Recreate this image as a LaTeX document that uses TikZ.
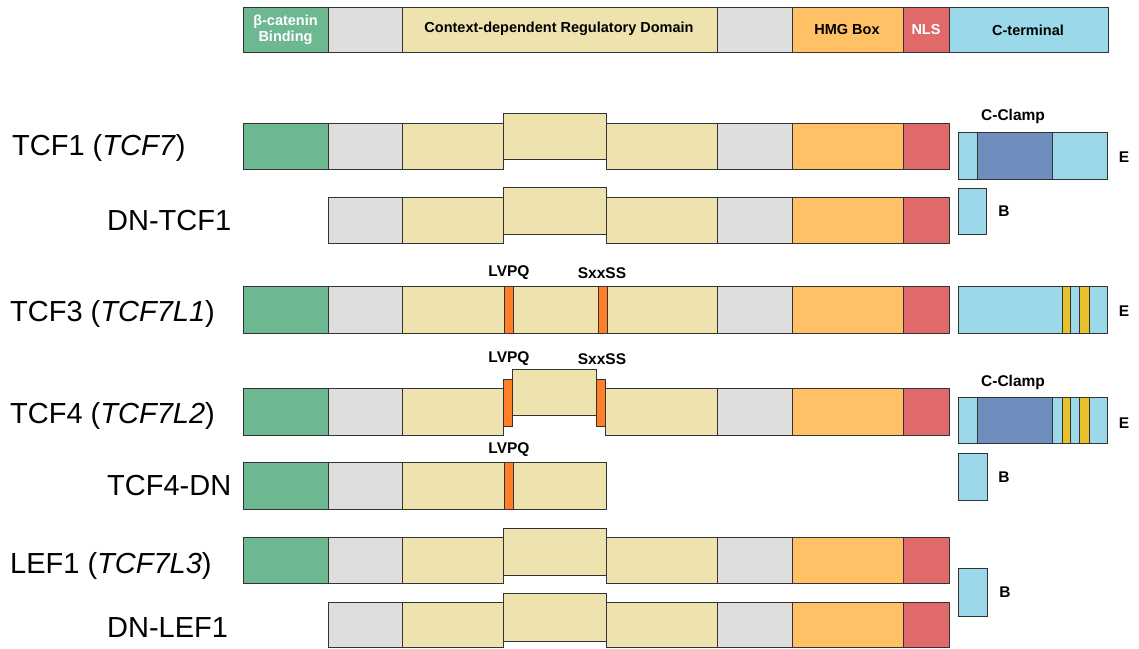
\documentclass[tikz,border=0pt]{standalone}
\usepackage{fontspec}
\setmainfont{Liberation Sans}
\usepackage{tikz}

\definecolor{bcat}{HTML}{6DB791}
\definecolor{linker}{HTML}{DEDEDE}
\definecolor{cdrd}{HTML}{EEE2AE}
\definecolor{hmg}{HTML}{FFC066}
\definecolor{nls}{HTML}{E06A6A}
\definecolor{cterm}{HTML}{9BD9EA}
\definecolor{clamp}{HTML}{6E8FBE}
\definecolor{motif}{HTML}{FF7F27}
\definecolor{cys}{HTML}{E8C12A}

\begin{document}
\begin{tikzpicture}[x=1pt,y=-1pt,
  dom/.style={draw=black!80,line width=0.9pt},
  hdr/.style={font=\bfseries\fontsize{14.5}{16}\selectfont,align=center,inner sep=0pt},
  tag/.style={font=\bfseries\fontsize{15.5}{17}\selectfont,inner sep=0pt},
  gene/.style={font=\fontsize{29}{33}\selectfont,anchor=base west,inner sep=0pt}]
\useasboundingbox (0,0) rectangle (1139,648);

% legend bar
\draw[dom,fill=bcat] (243,7) rectangle (328,52);
\draw[dom,fill=linker] (328,7) rectangle (402,52);
\draw[dom,fill=cdrd] (402,7) rectangle (717,52);
\draw[dom,fill=linker] (717,7) rectangle (792,52);
\draw[dom,fill=hmg] (792,7) rectangle (903,52);
\draw[dom,fill=nls] (903,7) rectangle (949,52);
\draw[dom,fill=cterm] (949,7) rectangle (1108,52);
\node[hdr,text=white] (lgbcat) at (285.5,30) {β-catenin\\Binding};
\node[hdr] (lgcdrd) at (559,29) {Context-dependent Regulatory Domain};
\node[hdr] (lghmg) at (847,30) {HMG Box};
\node[hdr,text=white] (lgnls) at (926,30) {NLS};
\node[hdr] (lgcterm) at (1028,30) {C-terminal};

% TCF1
\node[gene] (tcf1) at (12,155) {TCF1 (\textit{TCF7})};
\draw[dom,fill=bcat] (243,123) rectangle (328,169);
\draw[dom,fill=linker] (328,123) rectangle (402,169);
\draw[dom,fill=cdrd] (402,123) rectangle (503,169);
\draw[dom,fill=cdrd] (503,113) rectangle (606,159);
\draw[dom,fill=cdrd] (606,123) rectangle (717,169);
\draw[dom,fill=linker] (717,123) rectangle (792,169);
\draw[dom,fill=hmg] (792,123) rectangle (903,169);
\draw[dom,fill=nls] (903,123) rectangle (949,169);
\draw[dom,fill=cterm] (958,132) rectangle (1107,179);
\draw[dom,fill=clamp] (977,132) rectangle (1052,179);
\node[tag] (cc1) at (1013,116) {C-Clamp};
\node[tag] (e1) at (1124,157) {E};

% DN-TCF1
\node[gene] (dntcf1) at (107,230) {DN-TCF1};
\draw[dom,fill=linker] (328,197) rectangle (402,243);
\draw[dom,fill=cdrd] (402,197) rectangle (503,243);
\draw[dom,fill=cdrd] (503,187) rectangle (606,234);
\draw[dom,fill=cdrd] (606,197) rectangle (717,243);
\draw[dom,fill=linker] (717,197) rectangle (792,243);
\draw[dom,fill=hmg] (792,197) rectangle (903,243);
\draw[dom,fill=nls] (903,197) rectangle (949,243);
\draw[dom,fill=cterm] (958,188) rectangle (986,234);
\node[tag] (b1) at (1004,211) {B};

% TCF3
\node[gene] (tcf3) at (10,321) {TCF3 (\textit{TCF7L1})};
\draw[dom,fill=bcat] (243,286) rectangle (328,333);
\draw[dom,fill=linker] (328,286) rectangle (402,333);
\draw[dom,fill=cdrd] (402,286) rectangle (717,333);
\draw[dom,fill=motif] (504,286) rectangle (513,333);
\draw[dom,fill=motif] (598,286) rectangle (607,333);
\draw[dom,fill=linker] (717,286) rectangle (792,333);
\draw[dom,fill=hmg] (792,286) rectangle (903,333);
\draw[dom,fill=nls] (903,286) rectangle (949,333);
\draw[dom,fill=cterm] (958,286) rectangle (1107,333);
\draw[dom,fill=cys] (1062,286) rectangle (1070,333);
\draw[dom,fill=cys] (1079,286) rectangle (1089,333);
\node[tag] (lvpq3) at (509,273) {LVPQ};
\node[tag] (sxxss3) at (602,273) {SxxSS};
\node[tag] (e3) at (1124,311) {E};

% TCF4
\node[gene] (tcf4) at (10,423) {TCF4 (\textit{TCF7L2})};
\draw[dom,fill=bcat] (243,388) rectangle (328,435);
\draw[dom,fill=linker] (328,388) rectangle (402,435);
\draw[dom,fill=cdrd] (402,388) rectangle (503,435);
\draw[dom,fill=motif] (503,379) rectangle (512,426);
\draw[dom,fill=cdrd] (512,369) rectangle (596,415);
\draw[dom,fill=motif] (596,379) rectangle (605,426);
\draw[dom,fill=cdrd] (605,388) rectangle (717,435);
\draw[dom,fill=linker] (717,388) rectangle (792,435);
\draw[dom,fill=hmg] (792,388) rectangle (903,435);
\draw[dom,fill=nls] (903,388) rectangle (949,435);
\draw[dom,fill=cterm] (958,397) rectangle (1107,443);
\draw[dom,fill=clamp] (977,397) rectangle (1052,443);
\draw[dom,fill=cys] (1062,397) rectangle (1070,443);
\draw[dom,fill=cys] (1079,397) rectangle (1089,443);
\node[tag] (lvpq4) at (509,359) {LVPQ};
\node[tag] (sxxss4) at (602,359) {SxxSS};
\node[tag] (cc4) at (1013,382) {C-Clamp};
\node[tag] (e4) at (1124,423) {E};

% TCF4-DN
\node[gene] (tcf4dn) at (107,495) {TCF4-DN};
\draw[dom,fill=bcat] (243,462) rectangle (328,509);
\draw[dom,fill=linker] (328,462) rectangle (402,509);
\draw[dom,fill=cdrd] (402,462) rectangle (606,509);
\draw[dom,fill=motif] (504,462) rectangle (513,509);
\draw[dom,fill=cterm] (958,453) rectangle (987,500);
\node[tag] (lvpq5) at (509,450) {LVPQ};
\node[tag] (b5) at (1004,477) {B};

% LEF1
\node[gene] (lef1) at (10,573) {LEF1 (\textit{TCF7L3})};
\draw[dom,fill=bcat] (243,537) rectangle (328,583);
\draw[dom,fill=linker] (328,537) rectangle (402,583);
\draw[dom,fill=cdrd] (402,537) rectangle (503,583);
\draw[dom,fill=cdrd] (503,528) rectangle (606,575);
\draw[dom,fill=cdrd] (606,537) rectangle (717,583);
\draw[dom,fill=linker] (717,537) rectangle (792,583);
\draw[dom,fill=hmg] (792,537) rectangle (903,583);
\draw[dom,fill=nls] (903,537) rectangle (949,583);

% DN-LEF1
\node[gene] (dnlef1) at (107,637) {DN-LEF1};
\draw[dom,fill=linker] (328,602) rectangle (402,647);
\draw[dom,fill=cdrd] (402,602) rectangle (503,647);
\draw[dom,fill=cdrd] (503,593) rectangle (606,641);
\draw[dom,fill=cdrd] (606,602) rectangle (717,647);
\draw[dom,fill=linker] (717,602) rectangle (792,647);
\draw[dom,fill=hmg] (792,602) rectangle (903,647);
\draw[dom,fill=nls] (903,602) rectangle (949,647);
\draw[dom,fill=cterm] (958,568) rectangle (987,616);
\node[tag] (b7) at (1005,592) {B};
\end{tikzpicture}
\end{document}
